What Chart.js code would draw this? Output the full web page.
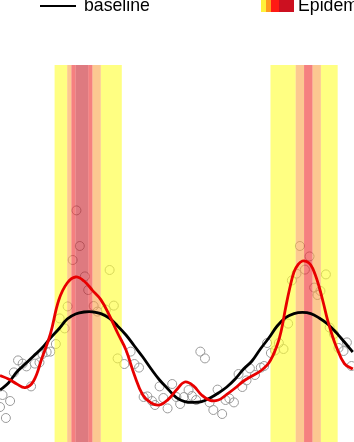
<!DOCTYPE html>
<html>
<head>
<meta charset="utf-8">
<script src="https://cdn.jsdelivr.net/npm/chart.js@4"></script>
<style>
  html, body { margin: 0; padding: 0; background: #fff; overflow: hidden; }
  #wrap { position: relative; width: 354px; height: 442px; overflow: hidden; }
  #myChart { position: absolute; left: 0; top: 0; }
  .lg { position: absolute; font-family: "Liberation Sans", Arial, sans-serif; font-size: 17.7px; line-height: 17.7px; color: #000; white-space: nowrap; }
  .sw { position: absolute; top: 0; height: 12px; }
</style>
</head>
<body>
<div id="wrap">
  <canvas id="myChart" width="354" height="442"></canvas>
  <div style="position:absolute;left:40px;top:4.5px;width:36px;height:2.6px;background:#000"></div>
  <div class="lg" style="left:84px;top:-3px">baseline</div>
  <div class="sw" style="left:261px;width:5px;background:#fff23a"></div>
  <div class="sw" style="left:266px;width:5px;background:#ff9a1e"></div>
  <div class="sw" style="left:271px;width:8px;background:#ff1a14"></div>
  <div class="sw" style="left:279px;width:15px;background:#cc1020"></div>
  <div class="lg" style="left:298px;top:-3px">Epidemic</div>
</div>
<script>
// observed weekly values (circles)
let obsWeeks = [0.0, 0.6, 1.4, 2.4, 3.3, 4.3, 5.4, 6.3, 7.4, 8.3, 9.4, 10.1, 11.1, 12.0, 13.3, 14.2, 15.4, 16.1, 17.3, 18.2,
  19.0, 20.2, 21.0, 22.3, 23.2, 25.2, 26.1, 27.1, 28.0, 29.6, 31.1, 32.0, 33.1, 34.2, 35.1, 36.2, 36.9, 38.0, 38.9, 39.9,
  41.0, 42.0, 42.9, 43.8, 44.9, 45.7, 46.7, 47.7, 48.8, 49.9, 50.8, 51.8, 52.9, 53.7, 54.6, 55.7, 56.8, 57.7, 58.7, 59.5,
  60.7, 62.1, 62.9, 63.6, 64.5, 65.5, 66.4, 67.5, 68.6, 69.5, 70.6, 71.4, 72.6, 73.7, 74.8, 75.6, 76.3, 77.6, 78.5, 79.5,
  80.6, 81.8, 82.6, 83.7]
let obsValues = [17.5, 23.5, 12, 20.5, 34.8, 40.8, 39.2, 37.8, 27.8, 39.2, 39.8, 44, 45, 45.2, 49, 61.8, 56.8, 67.8, 91, 115.8,
  98, 82.8, 76, 68, 65.2, 66.2, 86, 68.2, 41.8, 39, 45.2, 39, 37.2, 22.5, 22.8, 20.5, 18.5, 27.8, 22, 16.8,
  29, 22.5, 19, 22.5, 26, 23, 21, 45.2, 41.8, 19.8, 16, 26.2, 14, 21, 21.8, 19.8, 34, 27.5, 30.8, 36.8,
  33.5, 37.2, 38, 49.5, 44.5, 45.8, 49.5, 46.5, 59.2, 80.8, 84.2, 98, 86.2, 92.8, 77.2, 73.5, 75.5, 83.8, 57.2, 54,
  47, 45.5, 49.8, 38]

// baseline curve
let baseWeeks = [0, 2, 4, 6, 8, 10, 12, 14, 16, 18, 20, 22, 24, 26, 28, 30, 32, 34, 36, 38, 40, 42,
  44, 46, 48, 50, 52, 54, 56, 58, 60, 62, 64, 66, 68, 70, 72, 74, 76, 78, 80, 82, 84]
let baseValues = [26, 29.5, 35, 39, 43, 47, 52, 56.5, 61.5, 64, 65, 65.1, 64.2, 62, 58, 53.5, 48, 42.5, 36.5, 31, 26.5, 22.2,
  20.2, 19.8, 20.2, 22, 24.5, 27.5, 31.5, 36.5, 40.5, 46.5, 52, 58, 62.2, 64.2, 64.8, 64.2, 62, 59, 54.8, 50, 45]

// fitted curve
let fitWeeks = [0, 2, 4, 6, 8, 10, 12, 14, 16, 18, 20, 22, 24, 26, 28, 30, 32, 34, 36, 38, 40, 42, 44, 46, 48, 50,
  52, 54, 56, 58, 60, 62, 64, 66, 67, 68, 69, 70, 71, 72, 73, 74, 75, 76, 77, 78, 79, 80, 82, 84]
let fitValues = [33.2, 31.5, 29, 27.2, 30.5, 42, 54, 71, 79.5, 82.5, 80.5, 75.8, 71.2, 63.5, 54.5, 46, 33.5, 23.5, 19.5, 18.5, 21.2, 26, 30, 28.2, 23.5, 20.8,
  21, 23.8, 27, 30.5, 33, 35.5, 39.5, 48.5, 56, 67, 77, 85, 88.8, 90.5, 90.2, 88.5, 84, 77.5, 69.5, 61, 54, 48, 39.2, 36.5]

// epidemic periods per season, outer (level 1) to inner
let season1Start = [13, 16, 17, 18]
let season1End = [29, 24, 22, 21]
let season2Start = [64.4, 70.4, 72.4]
let season2End = [80.4, 76.4, 74.4]
let levelColors = ['rgba(255,255,47,0.6)', 'rgba(250,163,72,0.6)', 'rgba(238,43,43,0.6)', 'rgba(200,33,43,0.6)']

function pairs(xs, ys) {
    return xs.map((x, i) => ({ x: x, y: ys[i] }))
}

let epidemicBands = {
    id: 'epidemicBands',
    afterDatasetDraw(chart, args) {
        if (args.index !== 0) return
        let c = chart.ctx
        let xs = chart.scales.x
        let area = chart.chartArea
        c.save()
        c.beginPath()
        c.rect(area.left, area.top, area.right - area.left, area.bottom - area.top)
        c.clip()
        let fill = (a, b, col) => {
            let p1 = xs.getPixelForValue(a)
            let p2 = xs.getPixelForValue(b)
            c.fillStyle = col
            c.fillRect(p1, area.top, p2 - p1, area.bottom - area.top)
        }
        for (let [starts, ends] of [[season1Start, season1End], [season2Start, season2End]]) {
            for (let i = 0; i < starts.length; i++) {
                if (i === starts.length - 1) {
                    fill(starts[i], ends[i], levelColors[i])
                } else {
                    fill(starts[i], starts[i + 1], levelColors[i])
                    fill(ends[i + 1], ends[i], levelColors[i])
                }
            }
        }
        c.restore()
    }
}

let ctx = document.getElementById('myChart').getContext('2d')
let myChart = new Chart(ctx, {
    type: 'scatter',
    data: {
        datasets: [{
            label: 'observed',
            data: pairs(obsWeeks, obsValues),
            pointRadius: 4.5,
            pointBorderWidth: 1,
            pointBorderColor: '#9a9a9a',
            pointBackgroundColor: 'rgba(0,0,0,0)',
            order: 3
        }, {
            label: 'baseline',
            data: pairs(baseWeeks, baseValues),
            showLine: true,
            borderColor: '#000',
            borderWidth: 2.8,
            pointRadius: 0,
            tension: 0.4,
            order: 2
        }, {
            label: 'fit',
            data: pairs(fitWeeks, fitValues),
            showLine: true,
            borderColor: '#e80000',
            borderWidth: 2.8,
            pointRadius: 0,
            tension: 0.4,
            order: 1
        }]
    },
    options: {
        responsive: false,
        animation: false,
        layout: { autoPadding: false, padding: { top: 65, left: 0, right: 0, bottom: 0 } },
        plugins: {
            legend: { display: false },
            tooltip: { enabled: false }
        },
        scales: {
            x: { type: 'linear', min: 0, max: 84.29, display: false },
            y: { min: 0, max: 188.5, display: false }
        }
    },
    plugins: [epidemicBands]
})
</script>
</body>
</html>
